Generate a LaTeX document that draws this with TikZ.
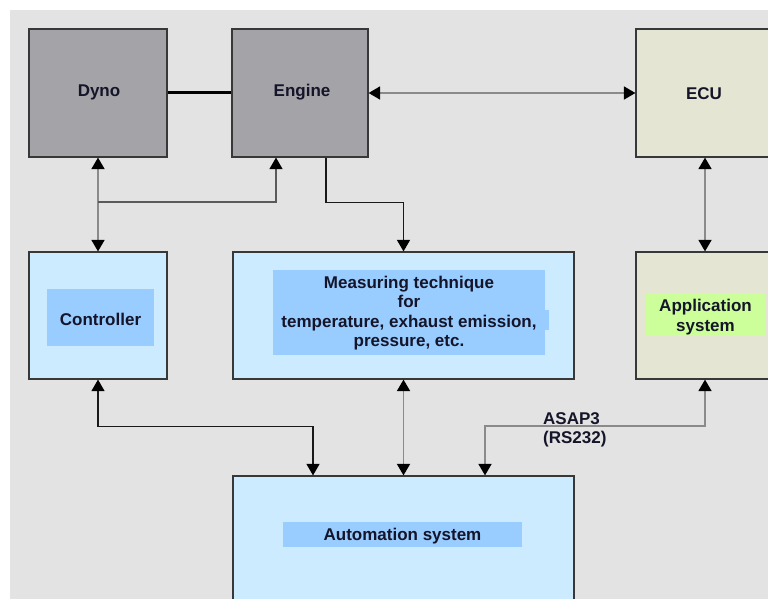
\documentclass[tikz,border=0pt]{standalone}
\usepackage{fontspec}
\setmainfont{Liberation Sans}
\usetikzlibrary{arrows.meta}

\definecolor{canvas}{HTML}{E3E3E3}
\definecolor{hwfill}{HTML}{A4A3A8}
\definecolor{ecufill}{HTML}{E5E5D4}
\definecolor{sysfill}{HTML}{CCEBFF}
\definecolor{labelblue}{HTML}{99CCFF}
\definecolor{labelgreen}{HTML}{CCFF99}
\definecolor{frame}{HTML}{383838}
\definecolor{wiregray}{HTML}{8A8A8A}
\definecolor{wiremid}{HTML}{5A5A5A}
\definecolor{txt}{HTML}{15152A}

\tikzset{
  unit/.style={draw=frame, line width=1.2pt, inner sep=0pt, text=txt,
               minimum width=138pt, minimum height=128pt},
  hw/.style={unit, fill=hwfill},
  ctl/.style={unit, fill=ecufill},
  sys/.style={unit, fill=sysfill},
  patch/.style={inner sep=0pt, outer sep=0pt},
  tag/.style={inner sep=0pt, text=txt, align=center},
  wgray/.style={draw=wiregray, line width=1.6pt},
  wmid/.style={draw=wiremid, line width=1.3pt},
  wblack/.style={draw=black!90, line width=1.3pt},
  >={Triangle[length=11.5pt,width=13pt,color=black]}
}

\begin{document}
\begin{tikzpicture}[x=1pt,y=-1pt,font=\fontsize{17}{19.5}\selectfont\bfseries]
  \useasboundingbox (0,0) rectangle (768,599);
  \clip (0,0) rectangle (768,599);
  \fill[white] (0,0) rectangle (768,599);
  \fill[canvas] (10,10) rectangle (768,599);

  % top row: hardware and ECU
  \node[hw] (dyno) at (98,93) {};
  \node[tag] (dynotxt) at (99,92) {Dyno};
  \node[hw, minimum width=136pt] (eng) at (300,93) {};
  \node[tag] (engtxt) at (302,92) {Engine};
  \node[ctl] (ecu) at (705,93) {};
  \node[tag] (ecutxt) at (704,94) {ECU};

  % middle row (y axis points down, so a text drop is a negative yshift)
  \node[sys, minimum height=127pt] (ctrl) at (98,315.5) {};
  \node[patch, fill=labelblue, minimum width=107pt, minimum height=57pt]
    (ctrlpatch) at (100.5,317.5) {};
  \node[tag] (ctrltxt) at ([yshift=-2pt]ctrlpatch.center) {Controller};

  \node[sys, minimum width=341pt, minimum height=127pt] (meas) at (403.5,315.5) {};
  \node[patch, fill=labelblue, minimum width=272pt, minimum height=85pt]
    (measpatch) at (409,312.5) {};
  \node[patch, fill=labelblue, minimum width=4pt, minimum height=20pt,
        anchor=west] (measnotch) at ([yshift=-7.5pt]measpatch.east) {};
  \node[tag] (meastxt) at ([yshift=-0.5pt]measpatch.center)
    {Measuring technique\\for\\temperature, exhaust emission,\\pressure, etc.};

  \node[ctl, minimum height=127pt] (app) at (705,315.5) {};
  \node[patch, fill=labelgreen, minimum width=119pt, minimum height=43pt]
    (apppatch) at (705.5,314.5) {};
  \node[tag] (apptxt) at ([yshift=-2.5pt]apppatch.center) {Application\\system};

  % bottom: automation system
  \node[sys, minimum width=341pt, minimum height=128pt] (auto) at (403.5,540) {};
  \node[patch, fill=labelblue, minimum width=239pt, minimum height=25pt]
    (autopatch) at (402.5,534.5) {};
  \node[tag] (autotxt) at ([yshift=-2pt]autopatch.center) {Automation system};

  % mechanical coupling
  \draw[black, line width=3pt] (dyno.east) -- (eng.west);

  % links
  \draw[wgray,<->] (eng.east) -- (ecu.west);
  \draw[wgray,<->] (dyno.south) -- (ctrl.north);
  \coordinate (split) at (98,202);
  \draw[wmid,->] (split) -| ([xshift=-24pt]eng.south);
  \draw[wblack,->] ([xshift=26pt]eng.south) -- ++(0,45) -| (meas.north);
  \draw[wgray,<->] (ecu.south) -- (app.north);

  \draw[wblack,<->] (ctrl.south) -- ++(0,47) -| ([xshift=-90.5pt]auto.north);
  \draw[wgray,<->] (meas.south) -- (auto.north);
  \draw[wgray,<->] (app.south) -- ++(0,46.5) -| ([xshift=81.5pt]auto.north);

  \node[tag, anchor=west, align=left] (asap) at (543,430) {ASAP3\\(RS232)};
\end{tikzpicture}
\end{document}
